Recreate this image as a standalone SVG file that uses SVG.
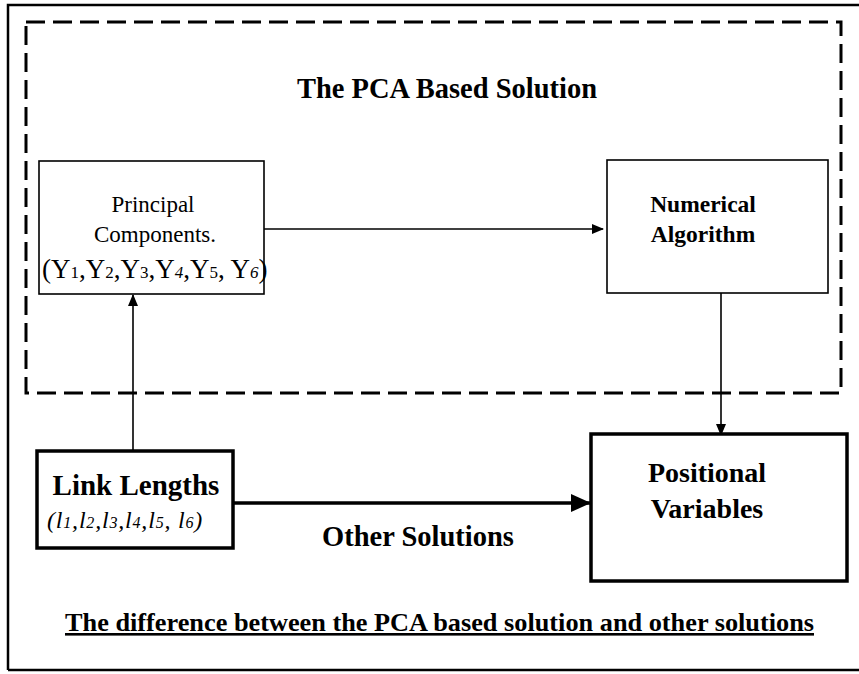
<svg xmlns="http://www.w3.org/2000/svg" width="859" height="674" viewBox="0 0 859 674">
<style>
.t{font-family:"Liberation Serif","Times New Roman",serif;fill:#000}
.b{font-weight:bold}
.box{fill:#fff;stroke:#000;stroke-width:1.6}
.thick{fill:#fff;stroke:#000;stroke-width:3.5}
.ln{stroke:#000;stroke-width:1.6;fill:none}
</style>
<defs>
<marker id="ah" markerWidth="12" markerHeight="10" refX="11" refY="5" orient="auto" markerUnits="userSpaceOnUse">
<path d="M0,0 L12,5 L0,10 Z" fill="#000"/>
</marker>
<marker id="ahb" markerWidth="20" markerHeight="18" refX="19" refY="9" orient="auto" markerUnits="userSpaceOnUse">
<path d="M0,0 L20,9 L0,18 Z" fill="#000"/>
</marker>
</defs>
<rect width="859" height="674" fill="#fff"/>
<g id="frame">
<path d="M8,670 L8,5 L862,5 M8,670 L862,670" fill="none" stroke="#000" stroke-width="2.5"/>
</g>
<g id="pca-region">
<rect x="26" y="22" width="815" height="371" fill="none" stroke="#000" stroke-width="3" stroke-dasharray="19,8"/>
<text class="t b" x="447" y="98" font-size="29" text-anchor="middle" textLength="300" lengthAdjust="spacingAndGlyphs">The PCA Based Solution</text>
</g>
<g id="connectors">
<line class="ln" x1="264" y1="229" x2="603" y2="229" marker-end="url(#ah)"/>
<line class="ln" x1="133" y1="451" x2="133" y2="295" marker-end="url(#ah)"/>
<line class="ln" x1="721" y1="293" x2="721" y2="435" marker-end="url(#ah)"/>
<line x1="233" y1="503" x2="590" y2="503" stroke="#000" stroke-width="3.5" marker-end="url(#ahb)"/>
<text class="t b" x="418" y="546" font-size="28.5" text-anchor="middle">Other Solutions</text>
</g>
<g id="principal-components">
<rect class="box" x="39" y="161" width="225" height="133"/>
<text class="t" x="153" y="212" font-size="23" text-anchor="middle">Principal</text>
<text class="t" x="155" y="242" font-size="23" text-anchor="middle">Components.</text>
<text class="t" x="42" y="278" font-size="27">(Y<tspan font-size="17">1</tspan>,Y<tspan font-size="17">2</tspan>,Y<tspan font-size="17">3</tspan>,Y<tspan font-size="17" font-style="italic">4</tspan>,Y<tspan font-size="17">5</tspan>, Y<tspan font-size="17" font-style="italic">6</tspan>)</text>
</g>
<g id="numerical-algorithm">
<rect class="box" x="607" y="160" width="221" height="133"/>
<text class="t b" x="703" y="212" font-size="23.5" text-anchor="middle">Numerical</text>
<text class="t b" x="703" y="242" font-size="23.5" text-anchor="middle">Algorithm</text>
</g>
<g id="link-lengths">
<rect class="thick" x="37" y="451" width="196" height="97"/>
<text class="t b" x="136" y="495" font-size="29" text-anchor="middle">Link Lengths</text>
<text class="t" x="47" y="528" font-size="24" font-style="italic" letter-spacing="0.8">(l<tspan font-size="16">1</tspan>,l<tspan font-size="16">2</tspan>,l<tspan font-size="16">3</tspan>,l<tspan font-size="16">4</tspan>,l<tspan font-size="16">5</tspan>, l<tspan font-size="16">6</tspan>)</text>
</g>
<g id="positional-variables">
<rect class="thick" x="591" y="434" width="256" height="147"/>
<text class="t b" x="707" y="482" font-size="28" text-anchor="middle">Positional</text>
<text class="t b" x="707" y="518" font-size="28" text-anchor="middle">Variables</text>
</g>
<g id="caption">
<text class="t b" x="65" y="631" font-size="26" textLength="749" lengthAdjust="spacingAndGlyphs" text-decoration="underline">The difference between the PCA based solution and other solutions</text>
</g>
</svg>
